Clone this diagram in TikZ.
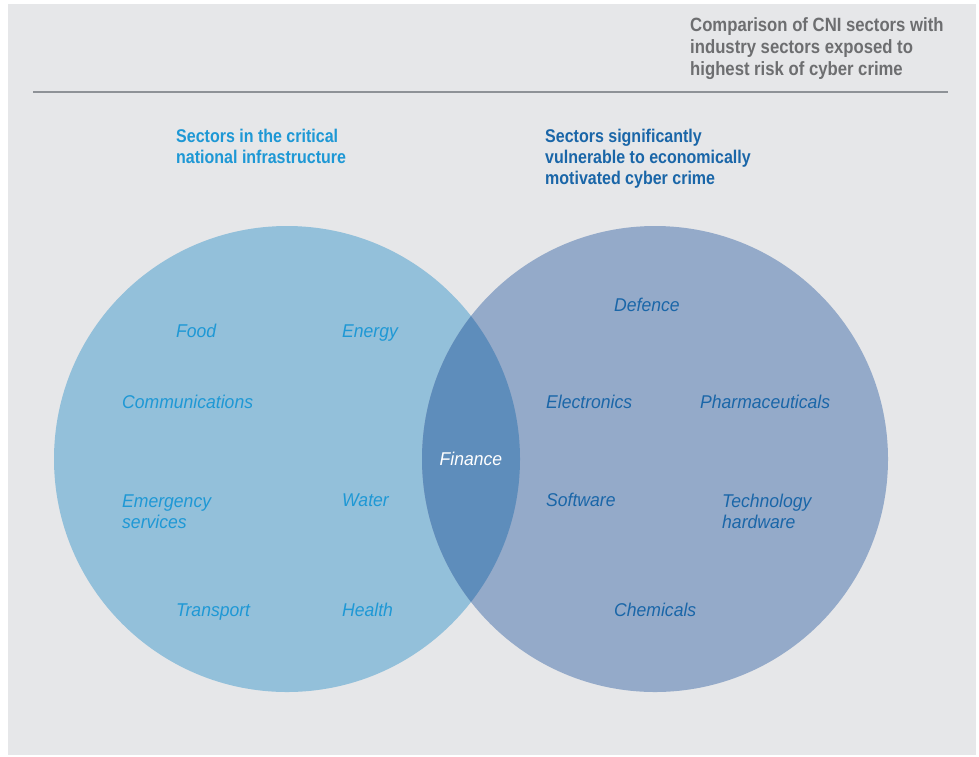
\documentclass[tikz,border=0pt]{standalone}
\usepackage{fontspec}
\setmainfont{Liberation Sans}
\newfontfamily\hdfont[FakeStretch=0.87]{Liberation Sans}
\newfontfamily\lbfont[FakeStretch=0.95]{Liberation Sans}
\definecolor{bg}{HTML}{E6E7E9}
\definecolor{leftc}{HTML}{93C0DA}
\definecolor{rightc}{HTML}{94AAC9}
\definecolor{midc}{HTML}{5E8DBB}
\definecolor{lefttxt}{HTML}{1E98D5}
\definecolor{righttxt}{HTML}{1A66A8}
\definecolor{titletxt}{HTML}{6D6E70}
\definecolor{rulec}{HTML}{8E9297}
\tikzset{
  lbl/.style={anchor=base west,inner sep=0pt,font=\lbfont\itshape\fontsize{18.5}{21}\selectfont,align=left},
  llbl/.style={lbl,text=lefttxt},
  rlbl/.style={lbl,text=righttxt},
  hdr/.style={anchor=base west,inner sep=0pt,font=\hdfont\bfseries\fontsize{18.4}{21}\selectfont,align=left},
  ttl/.style={anchor=base west,inner sep=0pt,font=\hdfont\bfseries\fontsize{19.2}{22}\selectfont,align=left,text=titletxt}
}
\begin{document}
\begin{tikzpicture}[x=1pt,y=-1pt]
\useasboundingbox (0,0) rectangle (979,756);
\fill[white] (0,0) rectangle (979,756);
\fill[bg] (8,4) rectangle (976,755);
% title and rule (multi-line nodes: base = last line's baseline)
\node[ttl] (title) at (690,75.5) {Comparison of CNI sectors with\\industry sectors exposed to\\highest risk of cyber crime};
\coordinate (r1) at (33,92);
\coordinate (r2) at (948,92);
\draw[rulec,line width=1.8pt] (r1) -- (r2);
% headers
\node[hdr,text=lefttxt] (hl) at (176,163.7) {Sectors in the critical\\national infrastructure};
\node[hdr,text=righttxt] (hr) at (545,184.5) {Sectors significantly\\vulnerable to economically\\motivated cyber crime};
% circles
\coordinate (cl) at (287,459);
\coordinate (cr) at (655,459);
\fill[leftc] (cl) circle[radius=233];
\fill[rightc] (cr) circle[radius=233];
\begin{scope}
\clip (cl) circle[radius=233];
\fill[midc] (cr) circle[radius=233];
\end{scope}
% left labels
\node[llbl] (food) at (176,337) {Food};
\node[llbl] (energy) at (342,337) {Energy};
\node[llbl] (comm) at (122,408) {Communications};
\node[llbl] (emer) at (122,528) {Emergency\\services};
\node[llbl] (water) at (342,506.5) {Water};
\node[llbl] (transport) at (176,616.7) {Transport};
\node[llbl] (health) at (342,616.7) {Health};
% middle
\node[lbl,anchor=base,text=white] (finance) at (471,465.7) {Finance};
% right labels
\node[rlbl] (defence) at (614,311) {Defence};
\node[rlbl] (electronics) at (546,408) {Electronics};
\node[rlbl] (pharma) at (700,408) {Pharmaceuticals};
\node[rlbl] (software) at (546,506.5) {Software};
\node[rlbl] (tech) at (722,528) {Technology\\hardware};
\node[rlbl] (chem) at (614,616.7) {Chemicals};
\end{tikzpicture}
\end{document}
